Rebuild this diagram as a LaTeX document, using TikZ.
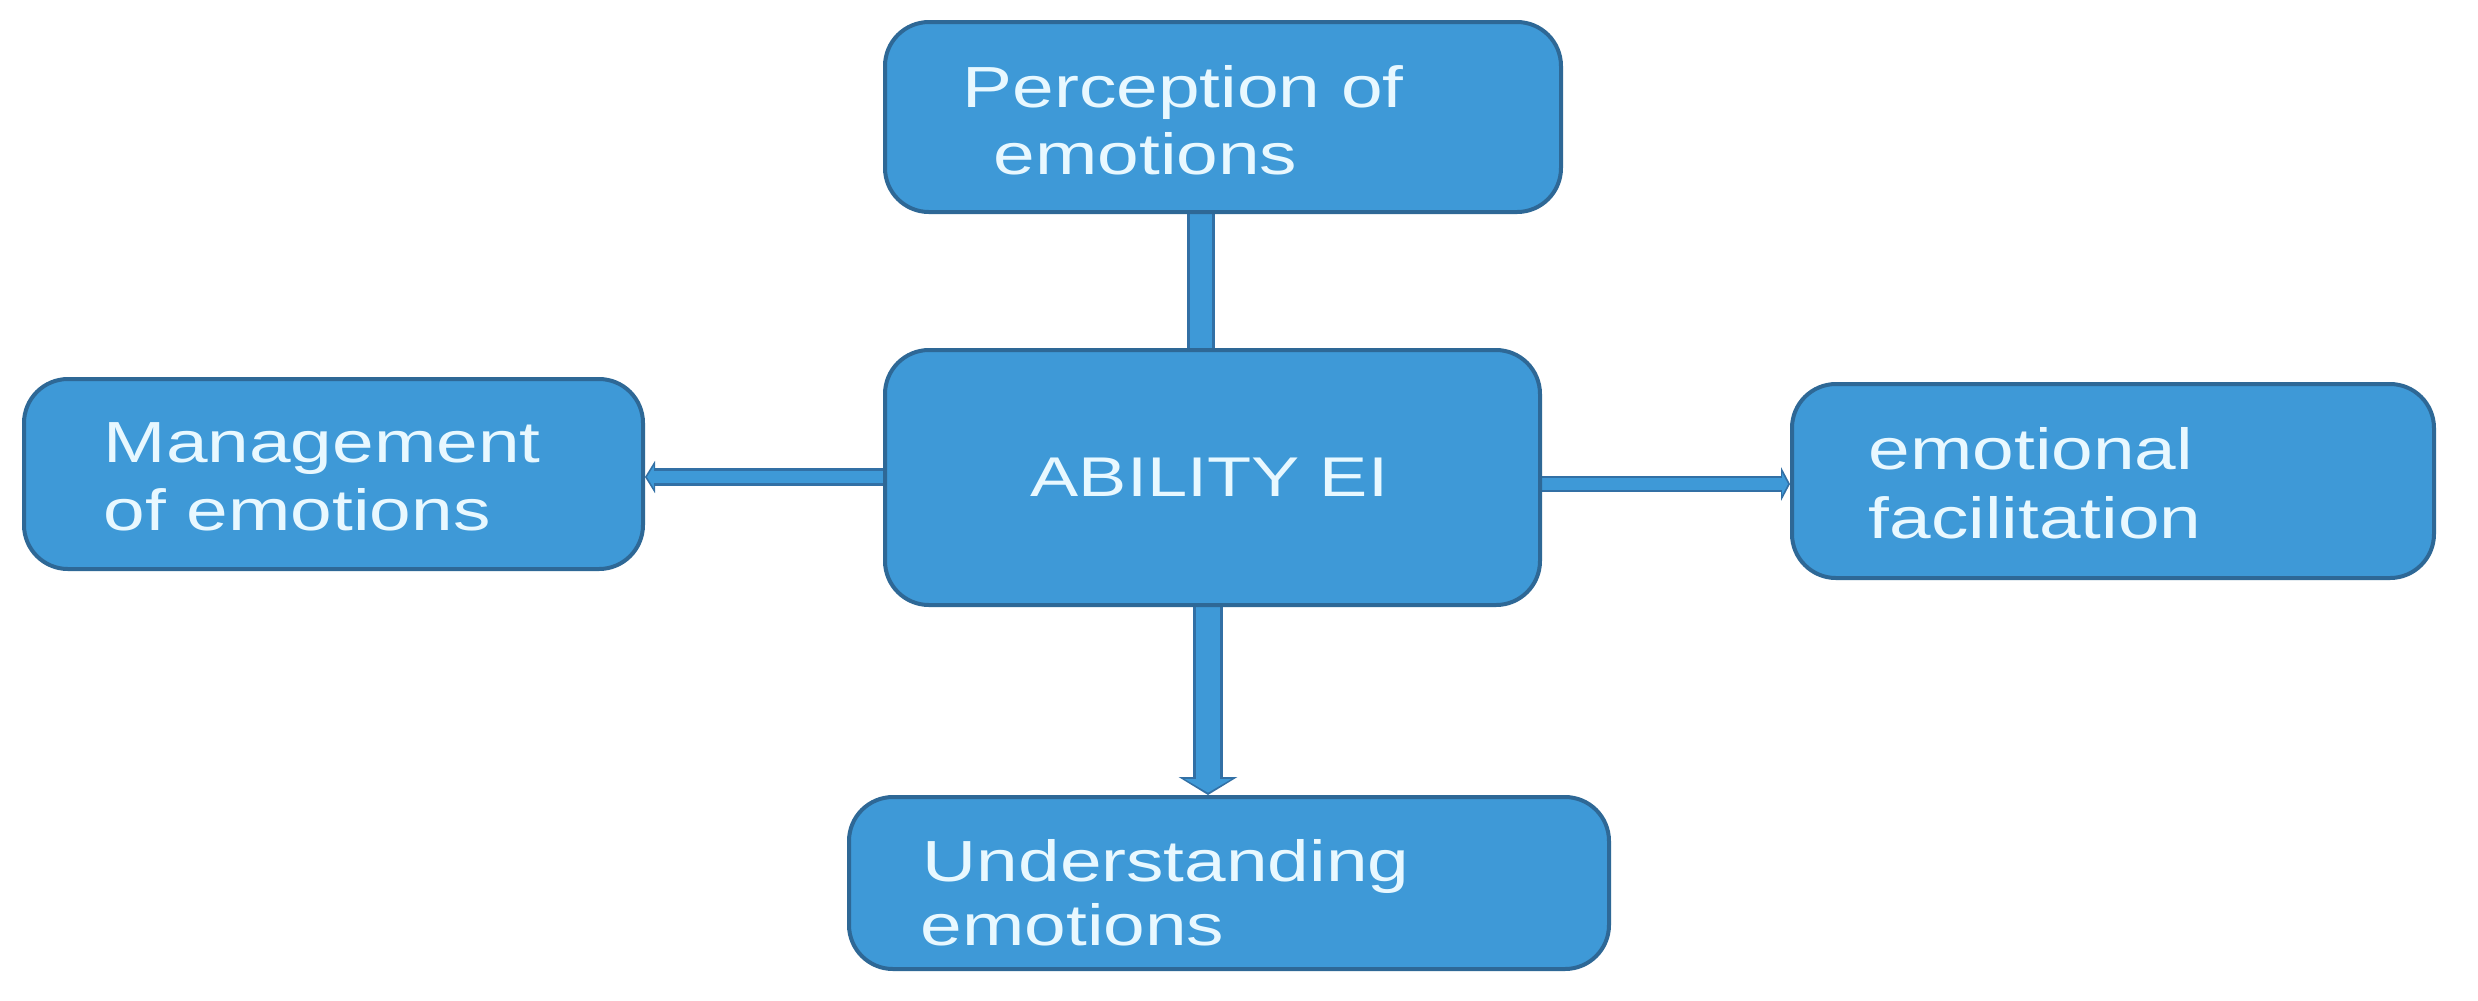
\documentclass[tikz,border=0pt]{standalone}
\usepackage{fontspec}
\setmainfont{Liberation Sans}
\usepackage{graphicx}
\usetikzlibrary{arrows.meta,calc}
\pgfdeclarelayer{back}
\pgfdeclarelayer{bg}
\pgfsetlayers{back,bg,main}
\definecolor{boxfill}{RGB}{62,153,215}
\definecolor{boxline}{RGB}{46,104,150}
\definecolor{barline}{RGB}{50,112,165}
\definecolor{txt}{RGB}{232,248,255}
\tikzset{
  box/.style={rectangle, rounded corners=11pt, draw=boxline, line width=1pt, fill=boxfill, inner sep=0pt},
  lbl/.style={anchor=base west, inner sep=0pt, text=txt, font=\fontsize{14.5pt}{17pt}\selectfont},
  barout/.style={draw=barline},
  barin/.style={draw=boxfill}
}
\newcommand{\stx}[1]{\scalebox{1.29}[1]{#1}}
\begin{document}
\begin{tikzpicture}[x=0.25pt,y=-0.25pt]
\begin{pgfonlayer}{back}
\fill[white] (0,0) rectangle (2478,1000);
\end{pgfonlayer}
\useasboundingbox (0,0) rectangle (2478,1000);

% boxes
\node[box, minimum width=169pt, minimum height=47.5pt] (perc) at (1223,117) {};
\node[box, minimum width=163.75pt, minimum height=63.75pt] (ctr) at (1212.5,477.5) {};
\node[box, minimum width=154.75pt, minimum height=47.5pt] (mgmt) at (333.5,474) {};
\node[box, minimum width=160.5pt, minimum height=48.5pt] (fac) at (2113,481) {};
\node[box, minimum width=190pt, minimum height=43pt] (und) at (1229,883) {};

% texts
\node[lbl] (perc1) at (962,107) {\stx{Perception of}};
\node[lbl] (perc2) at (993,174) {\stx{emotions}};
\node[lbl, font=\fontsize{14pt}{17pt}\selectfont] (ctr1) at (1030,496) {\stx{ABILITY EI}};
\node[lbl] (mgmt1) at (103,462) {\stx{Management}};
\node[lbl] (mgmt2) at (103,530) {\stx{of emotions}};
\node[lbl] (fac1) at (1868,469) {\stx{emotional}};
\node[lbl] (fac2) at (1868,538) {\stx{facilitation}};
\node[lbl] (und1) at (922,881) {\stx{Understanding}};
\node[lbl] (und2) at (920,945) {\stx{emotions}};

% connector helper coordinates
\coordinate (tx) at (1201,0);
\coordinate (dx) at (1208,0);
\coordinate (ly) at (0,477);
\coordinate (ry) at (0,484);

\begin{pgfonlayer}{bg}
% top connector (no arrow)
\draw[barout, line width=7pt] (perc.south -| tx) -- (ctr.north -| tx);
\draw[barin, line width=5.4pt] (perc.south -| tx) -- (ctr.north -| tx);
% down connector
\draw[barout, line width=7.6pt, -{Triangle[width=14.5pt,length=4.5pt]}] (ctr.south -| dx) -- (und.north -| dx);
\draw[barin, line width=6pt, -{Triangle[width=11.5pt,length=3.4pt]}, shorten >=0.6pt] (ctr.south -| dx) -- (und.north -| dx);
% left connector
\draw[barout, line width=4.5pt, -{Triangle[width=8pt,length=2.5pt]}] (ctr.west |- ly) -- (mgmt.east |- ly);
\draw[barin, line width=3pt, -{Triangle[width=5.5pt,length=1.7pt]}, shorten >=0.5pt] (ctr.west |- ly) -- (mgmt.east |- ly);
% right connector
\draw[barout, line width=4.2pt, -{Triangle[width=8.25pt,length=2.2pt]}] (ctr.east |- ry) -- (fac.west |- ry);
\draw[barin, line width=2.8pt, -{Triangle[width=5.6pt,length=1.5pt]}, shorten >=0.5pt] (ctr.east |- ry) -- (fac.west |- ry);
\end{pgfonlayer}
\end{tikzpicture}
\end{document}
